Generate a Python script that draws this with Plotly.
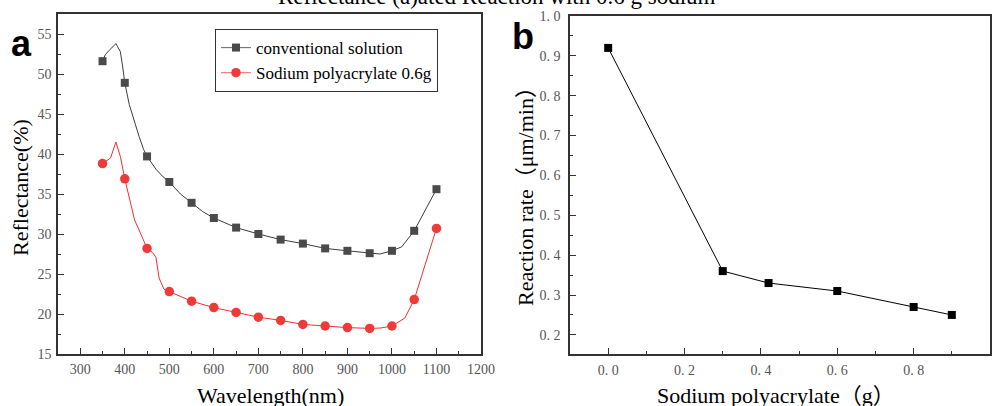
import plotly.graph_objects as go

W, H = 998, 406

# ---------------- data (panel a) ----------------
wl_markers = [350, 400, 450, 500, 550, 600, 650, 700, 750, 800, 850, 900, 950, 1000, 1050, 1100]
conv_marker_y = [51.6, 48.9, 39.7, 36.5, 33.9, 32.0, 30.8, 30.0, 29.3, 28.8, 28.2, 27.9, 27.6, 27.9, 30.4, 35.6]
spa_marker_y = [38.8, 36.9, 28.2, 22.8, 21.6, 20.8, 20.2, 19.6, 19.2, 18.7, 18.5, 18.3, 18.2, 18.5, 21.8, 30.7]

conv_line_x = [350, 356, 364, 372, 380, 384, 390, 395, 400, 410, 420, 432, 442, 450, 470, 485, 500,
               525, 550, 575, 600, 650, 700, 750, 800, 850, 900, 950, 973, 1000, 1022, 1050, 1100]
conv_line_y = [51.6, 52.4, 52.9, 53.3, 53.8, 53.4, 52.8, 51.0, 48.9, 46.2, 44.3, 42.2, 40.6, 39.7, 38.1, 37.2, 36.5,
               35.0, 33.9, 32.8, 32.0, 30.8, 30.0, 29.3, 28.8, 28.2, 27.9, 27.6, 27.5, 27.9, 28.4, 30.4, 35.6]

spa_line_x = [350, 368, 380, 390, 400, 411, 422, 432, 450, 462, 470, 477, 488, 500,
              550, 600, 650, 700, 750, 800, 850, 900, 950, 975, 1000, 1029, 1050, 1100]
spa_line_y = [38.8, 39.5, 41.5, 39.7, 36.9, 34.2, 31.75, 30.5, 28.2, 27.7, 27.1, 24.5, 23.1, 22.8,
              21.6, 20.8, 20.2, 19.6, 19.2, 18.7, 18.5, 18.3, 18.2, 18.25, 18.5, 19.5, 21.8, 30.7]

# ---------------- data (panel b) ----------------
spa_mass = [0.0, 0.3, 0.42, 0.6, 0.8, 0.9]
rate = [0.92, 0.36, 0.33, 0.31, 0.27, 0.25]

a_xticks = [300, 400, 500, 600, 700, 800, 900, 1000, 1100, 1200]
a_yticks = [15, 20, 25, 30, 35, 40, 45, 50, 55]
b_xticks = [0.0, 0.2, 0.4, 0.6, 0.8, 1.0]
b_xticktext = ["0. 0", "0. 2", "0. 4", "0. 6", "0. 8", "1. 0"]
b_yticks = [0.2, 0.3, 0.4, 0.5, 0.6, 0.7, 0.8, 0.9, 1.0]
b_yticktext = ["0. 2", "0. 3", "0. 4", "0. 5", "0. 6", "0. 7", "0. 8", "0. 9", "1. 0"]

GRAY_M = "#4a4a4a"
GRAY_L = "#3c3c3c"
RED_M = "#f03a3a"
RED_L = "#f03030"
SERIF = "Liberation Serif"
TICKC = "#555555"

fig = go.Figure()

# panel a lines
fig.add_trace(go.Scatter(x=conv_line_x, y=conv_line_y, mode="lines", line=dict(color=GRAY_L, width=1),
                         showlegend=False, hoverinfo="skip", xaxis="x", yaxis="y"))
fig.add_trace(go.Scatter(x=spa_line_x, y=spa_line_y, mode="lines", line=dict(color=RED_L, width=1),
                         showlegend=False, hoverinfo="skip", xaxis="x", yaxis="y"))
# panel a markers
fig.add_trace(go.Scatter(x=wl_markers, y=conv_marker_y, mode="markers",
                         marker=dict(symbol="square", size=8, color=GRAY_M),
                         showlegend=False, xaxis="x", yaxis="y"))
fig.add_trace(go.Scatter(x=wl_markers, y=spa_marker_y, mode="markers",
                         marker=dict(symbol="circle", size=9.5, color=RED_M),
                         showlegend=False, xaxis="x", yaxis="y"))
# legend proxies
fig.add_trace(go.Scatter(x=[None], y=[None], mode="lines+markers", name="conventional solution",
                         line=dict(color="#777777", width=1.2),
                         marker=dict(symbol="square", size=8, color=GRAY_M), xaxis="x", yaxis="y"))
fig.add_trace(go.Scatter(x=[None], y=[None], mode="lines+markers", name="Sodium polyacrylate 0.6g",
                         line=dict(color="#f57a7a", width=1.2),
                         marker=dict(symbol="circle", size=9.5, color=RED_M), xaxis="x", yaxis="y"))

# panel b
fig.add_trace(go.Scatter(x=spa_mass, y=rate, mode="lines+markers",
                         line=dict(color="black", width=1),
                         marker=dict(symbol="square", size=8, color="black"),
                         showlegend=False, xaxis="x2", yaxis="y2"))


def px_x(p):
    return p / W


def px_y(p):
    return 1 - p / H


axis_common = dict(
    showline=True, linecolor="#333333", linewidth=1.6, mirror=True,
    ticks="inside", ticklen=6, tickwidth=1.2, tickcolor="#333333",
    showgrid=False, zeroline=False,
    tickfont=dict(family=SERIF, size=14, color=TICKC),
    automargin=False,
)

fig.update_layout(
    width=W, height=H,
    margin=dict(l=0, r=0, t=0, b=0),
    paper_bgcolor="white", plot_bgcolor="white",
    xaxis=dict(domain=[px_x(58), px_x(481)], range=[250, 1200], tickvals=a_xticks,
               minor=dict(ticks="inside", ticklen=3, dtick=50, tick0=250, tickcolor="#333333", showgrid=False),
               anchor="y", ticklabelstandoff=1, **axis_common),
    yaxis=dict(domain=[px_y(354), px_y(14)], range=[15, 57.5], tickvals=a_yticks,
               minor=dict(ticks="inside", ticklen=3, dtick=2.5, tick0=15, tickcolor="#333333", showgrid=False),
               anchor="x", ticklabelstandoff=2, **axis_common),
    xaxis2=dict(domain=[px_x(570), px_x(990)], range=[-0.1, 1.0], tickvals=b_xticks, ticktext=b_xticktext,
                minor=dict(ticks="inside", ticklen=3, dtick=0.1, tick0=0, tickcolor="#333333", showgrid=False),
                anchor="y2", ticklabelstandoff=2, **axis_common),
    yaxis2=dict(domain=[px_y(354), px_y(16)], range=[0.152, 1.0], tickvals=b_yticks, ticktext=b_yticktext,
                minor=dict(ticks="inside", ticklen=3, dtick=0.05, tick0=0.15, tickcolor="#333333", showgrid=False),
                anchor="x2", ticklabelstandoff=5, **axis_common),
    legend=dict(x=px_x(215), y=px_y(29), xanchor="left", yanchor="top",
                bordercolor="#333333", borderwidth=1, bgcolor="white",
                font=dict(family=SERIF, size=17, color="black"),
                tracegroupgap=0, itemwidth=30),
    showlegend=True,
)

ann = [
    dict(text="Wavelength(nm)", x=px_x(270), y=px_y(395), xanchor="center", yanchor="middle",
         font=dict(family=SERIF, size=22, color="black")),
    dict(text="Reflectance(%)", x=px_x(20), y=px_y(188), xanchor="center", yanchor="middle", textangle=-90,
         font=dict(family=SERIF, size=22, color="black")),
    dict(text="Sodium polyacrylate（g）", x=px_x(776), y=px_y(395), xanchor="center", yanchor="middle",
         font=dict(family=SERIF + ", Noto Sans CJK SC", size=22, color="black")),
    dict(text="Reaction rate（μm/min）", x=px_x(525), y=px_y(191), xanchor="center", yanchor="middle", textangle=-90,
         font=dict(family=SERIF + ", Noto Sans CJK SC", size=22, color="black")),
    dict(text="<b>a</b>", x=px_x(21), y=px_y(44), xanchor="center", yanchor="middle",
         font=dict(family="Liberation Sans", size=36, color="black")),
    dict(text="<b>b</b>", x=px_x(523), y=px_y(36), xanchor="center", yanchor="middle",
         font=dict(family="Liberation Sans", size=36, color="black")),
    dict(text="Reflectance (a)ated Reaction with 0.6 g sodium", x=px_x(497), y=px_y(-4), xanchor="center",
         yanchor="middle", font=dict(family=SERIF, size=23, color="black")),
]
for a in ann:
    a.update(xref="paper", yref="paper", showarrow=False)
fig.update_layout(annotations=ann)

fig.write_html("out.html")
